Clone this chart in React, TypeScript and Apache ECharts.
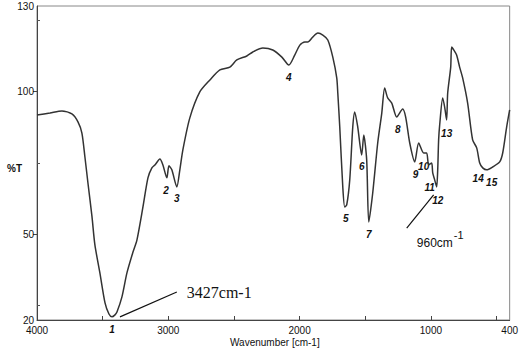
import React, { useEffect, useRef } from "react";
import * as echarts from "echarts";

// Spectrum trace (wavenumber in cm-1, transmittance in %T)
const wavenumbers = [
  4000, 3901, 3810, 3734, 3688, 3658, 3635, 3612, 3581, 3559, 3521, 3482, 3452, 3429, 3406, 3391,
  3353, 3315, 3269, 3239, 3193, 3155, 3125, 3102, 3064, 3041, 3011, 2995, 2973, 2935, 2912, 2889,
  2836, 2760, 2683, 2607, 2531, 2478, 2402, 2356, 2280, 2204, 2135, 2082, 2037, 1998, 1960, 1938,
  1900, 1861, 1823, 1785, 1747, 1717, 1709, 1694, 1671, 1656, 1641, 1618, 1595, 1580, 1557, 1527,
  1511, 1489, 1473, 1443, 1405, 1374, 1352, 1329, 1298, 1260, 1215, 1192, 1161, 1123, 1093, 1055,
  1032, 1017, 994, 986, 971, 956, 948, 941, 933, 910, 895, 880, 872, 849, 842, 826,
  804, 781, 758, 720, 682, 651, 628, 605, 575, 530, 476, 453, 423, 400,
];
const transmittance = [
  91.8, 92.5, 93.2, 92.2, 89.4, 85.5, 77.1, 68.0, 56.1, 46.3, 36.5, 26.0, 22.1, 21.1, 21.8, 22.8,
  28.1, 36.5, 43.8, 48.0, 59.6, 69.8, 73.3, 74.3, 76.4, 74.3, 69.8, 74.0, 72.6, 66.6, 72.6, 79.6,
  90.8, 99.9, 104.1, 107.6, 108.6, 111.1, 112.5, 113.9, 115.3, 114.6, 112.1, 109.3, 112.8, 116.3, 117.4, 117.4,
  119.1, 120.5, 119.8, 118.1, 112.1, 104.8, 99.5, 87.6, 66.6, 59.6, 60.3, 69.1, 87.6, 92.9, 87.6, 77.8,
  84.8, 76.1, 54.3, 64.5, 82.0, 92.5, 101.3, 97.8, 96.0, 91.1, 93.9, 91.1, 82.0, 75.4, 82.0, 78.5,
  78.5, 74.3, 75.0, 71.5, 69.1, 66.6, 72.6, 83.1, 88.3, 97.8, 94.6, 90.1, 99.5, 108.6, 115.6, 114.6,
  112.8, 108.6, 104.8, 96.0, 83.1, 80.3, 75.0, 73.3, 72.6, 73.6, 75.4, 78.5, 87.6, 93.6,
];

// Axis ticks / labels
const xTickValues = [500, 1000, 1500, 2000, 2500, 3000, 3500];
const xLabelValues = [4000, 3000, 2000, 1000, 400];
const yLabelValues = [20, 50, 100, 130];
const yOuterTicks = [50, 100];
const yInnerTicks = [25, 75, 125];

// Peak labels (number, wavenumber position, %T position)
const peakNames = ["1", "2", "3", "4", "5", "6", "7", "8", "9", "10", "11", "12", "13", "14", "15"];
const peakLabelX = [3429, 3018, 2935, 2082, 1648, 1527, 1473, 1253, 1116, 1055, 1009, 948, 880, 640, 537];
const peakLabelY = [16.8, 65.2, 62.4, 105.1, 55.4, 73.6, 50.1, 86.6, 70.8, 73.6, 66.3, 61.7, 85.5, 69.6, 68.0];

// Annotations
const annot1Text = "3427cm-1";
const annot1Line = [[3368, 21.1], [2935, 29.8]];
const annot1Pos = [2859, 29.6];
const annot2Text = "960cm";
const annot2Sup = "-1";
const annot2Line = [[1184, 52.2], [979, 63.8]];
const annot2Pos = [1107, 47.0];

export default function App() {
  const ref = useRef<HTMLDivElement>(null);
  useEffect(() => {
    const chart = echarts.init(ref.current!, null, { renderer: "svg" });
    const font = "Liberation Sans, Arial, sans-serif";
    chart.setOption({
      animation: false,
      grid: { left: 37, right: 11, top: 6, bottom: 31, show: true, borderColor: "#888", borderWidth: 1 },
      xAxis: {
        type: "value",
        min: 400,
        max: 4000,
        inverse: true,
        splitLine: { show: false },
        axisLine: { lineStyle: { color: "#444", width: 1 } },
        axisTick: { inside: true, length: 4, customValues: xTickValues, lineStyle: { color: "#444" } },
        axisLabel: {
          customValues: xLabelValues,
          formatter: (v: number) => String(v),
          showMinLabel: true,
          showMaxLabel: true,
          fontSize: 10,
          color: "#111",
          fontFamily: font,
          margin: 5,
        },
      },
      yAxis: [
        {
          type: "value",
          min: 20,
          max: 130,
          splitLine: { show: false },
          axisLine: { show: true, lineStyle: { color: "#444", width: 1 } },
          axisTick: { show: true, inside: false, length: 4, customValues: yOuterTicks, lineStyle: { color: "#444" } },
          axisLabel: {
            customValues: yLabelValues,
            formatter: (v: number) => String(v),
            showMinLabel: true,
            showMaxLabel: true,
            fontSize: 10,
            color: "#111",
            fontFamily: font,
            margin: 3,
          },
        },
        {
          type: "value",
          min: 20,
          max: 130,
          position: "left",
          splitLine: { show: false },
          axisLine: { show: false },
          axisTick: { show: true, inside: true, length: 3, customValues: yInnerTicks, lineStyle: { color: "#555" } },
          axisLabel: { show: false },
        },
      ],
      series: [
        {
          type: "line",
          data: wavenumbers.map((w, i) => [w, transmittance[i]]),
          showSymbol: false,
          symbol: "none",
          smooth: 0.25,
          lineStyle: { color: "#333", width: 1.5 },
        },
        {
          type: "line",
          data: annot1Line,
          symbol: "none",
          clip: false,
          lineStyle: { color: "#111", width: 1.2 },
        },
        {
          type: "line",
          data: annot2Line,
          symbol: "none",
          clip: false,
          lineStyle: { color: "#111", width: 1.2 },
        },
      ],
    });

    const px = (w: number, t: number) => chart.convertToPixel({ gridIndex: 0 }, [w, t]) as number[];
    const elements: any[] = peakNames.map((n, i) => {
      const p = px(peakLabelX[i], peakLabelY[i]);
      return {
        type: "text",
        x: p[0],
        y: p[1],
        style: {
          text: n,
          fill: "#111",
          font: "italic bold 10px Liberation Sans, Arial, sans-serif",
          align: "center",
          verticalAlign: "middle",
        },
      };
    });
    const a1 = px(annot1Pos[0], annot1Pos[1]);
    elements.push({
      type: "text",
      x: a1[0],
      y: a1[1],
      style: {
        text: annot1Text,
        fill: "#111",
        font: "16px Liberation Serif, Times New Roman, serif",
        align: "left",
        verticalAlign: "middle",
      },
    });
    const a2 = px(annot2Pos[0], annot2Pos[1]);
    elements.push({
      type: "text",
      x: a2[0],
      y: a2[1],
      style: {
        text: annot2Text,
        fill: "#111",
        font: "12px Liberation Sans, Arial, sans-serif",
        align: "left",
        verticalAlign: "middle",
      },
    });
    elements.push({
      type: "text",
      x: a2[0] + 37,
      y: a2[1] - 8,
      style: {
        text: annot2Sup,
        fill: "#111",
        font: "11px Liberation Sans, Arial, sans-serif",
        align: "left",
        verticalAlign: "middle",
      },
    });
    elements.push({
      type: "text",
      left: 7,
      top: 163,
      style: { text: "%T", fill: "#111", font: "bold 10px Liberation Sans, Arial, sans-serif" },
    });
    elements.push({
      type: "text",
      left: 230,
      top: 337,
      style: { text: "Wavenumber [cm-1]", fill: "#111", font: "10px Liberation Sans, Arial, sans-serif" },
    });
    chart.setOption({ graphic: { elements } });

    return () => chart.dispose();
  }, []);
  return (
    <div
      ref={ref}
      style={{ position: "fixed", left: 0, top: 0, width: 521, height: 351, background: "#fff" }}
    />
  );
}
